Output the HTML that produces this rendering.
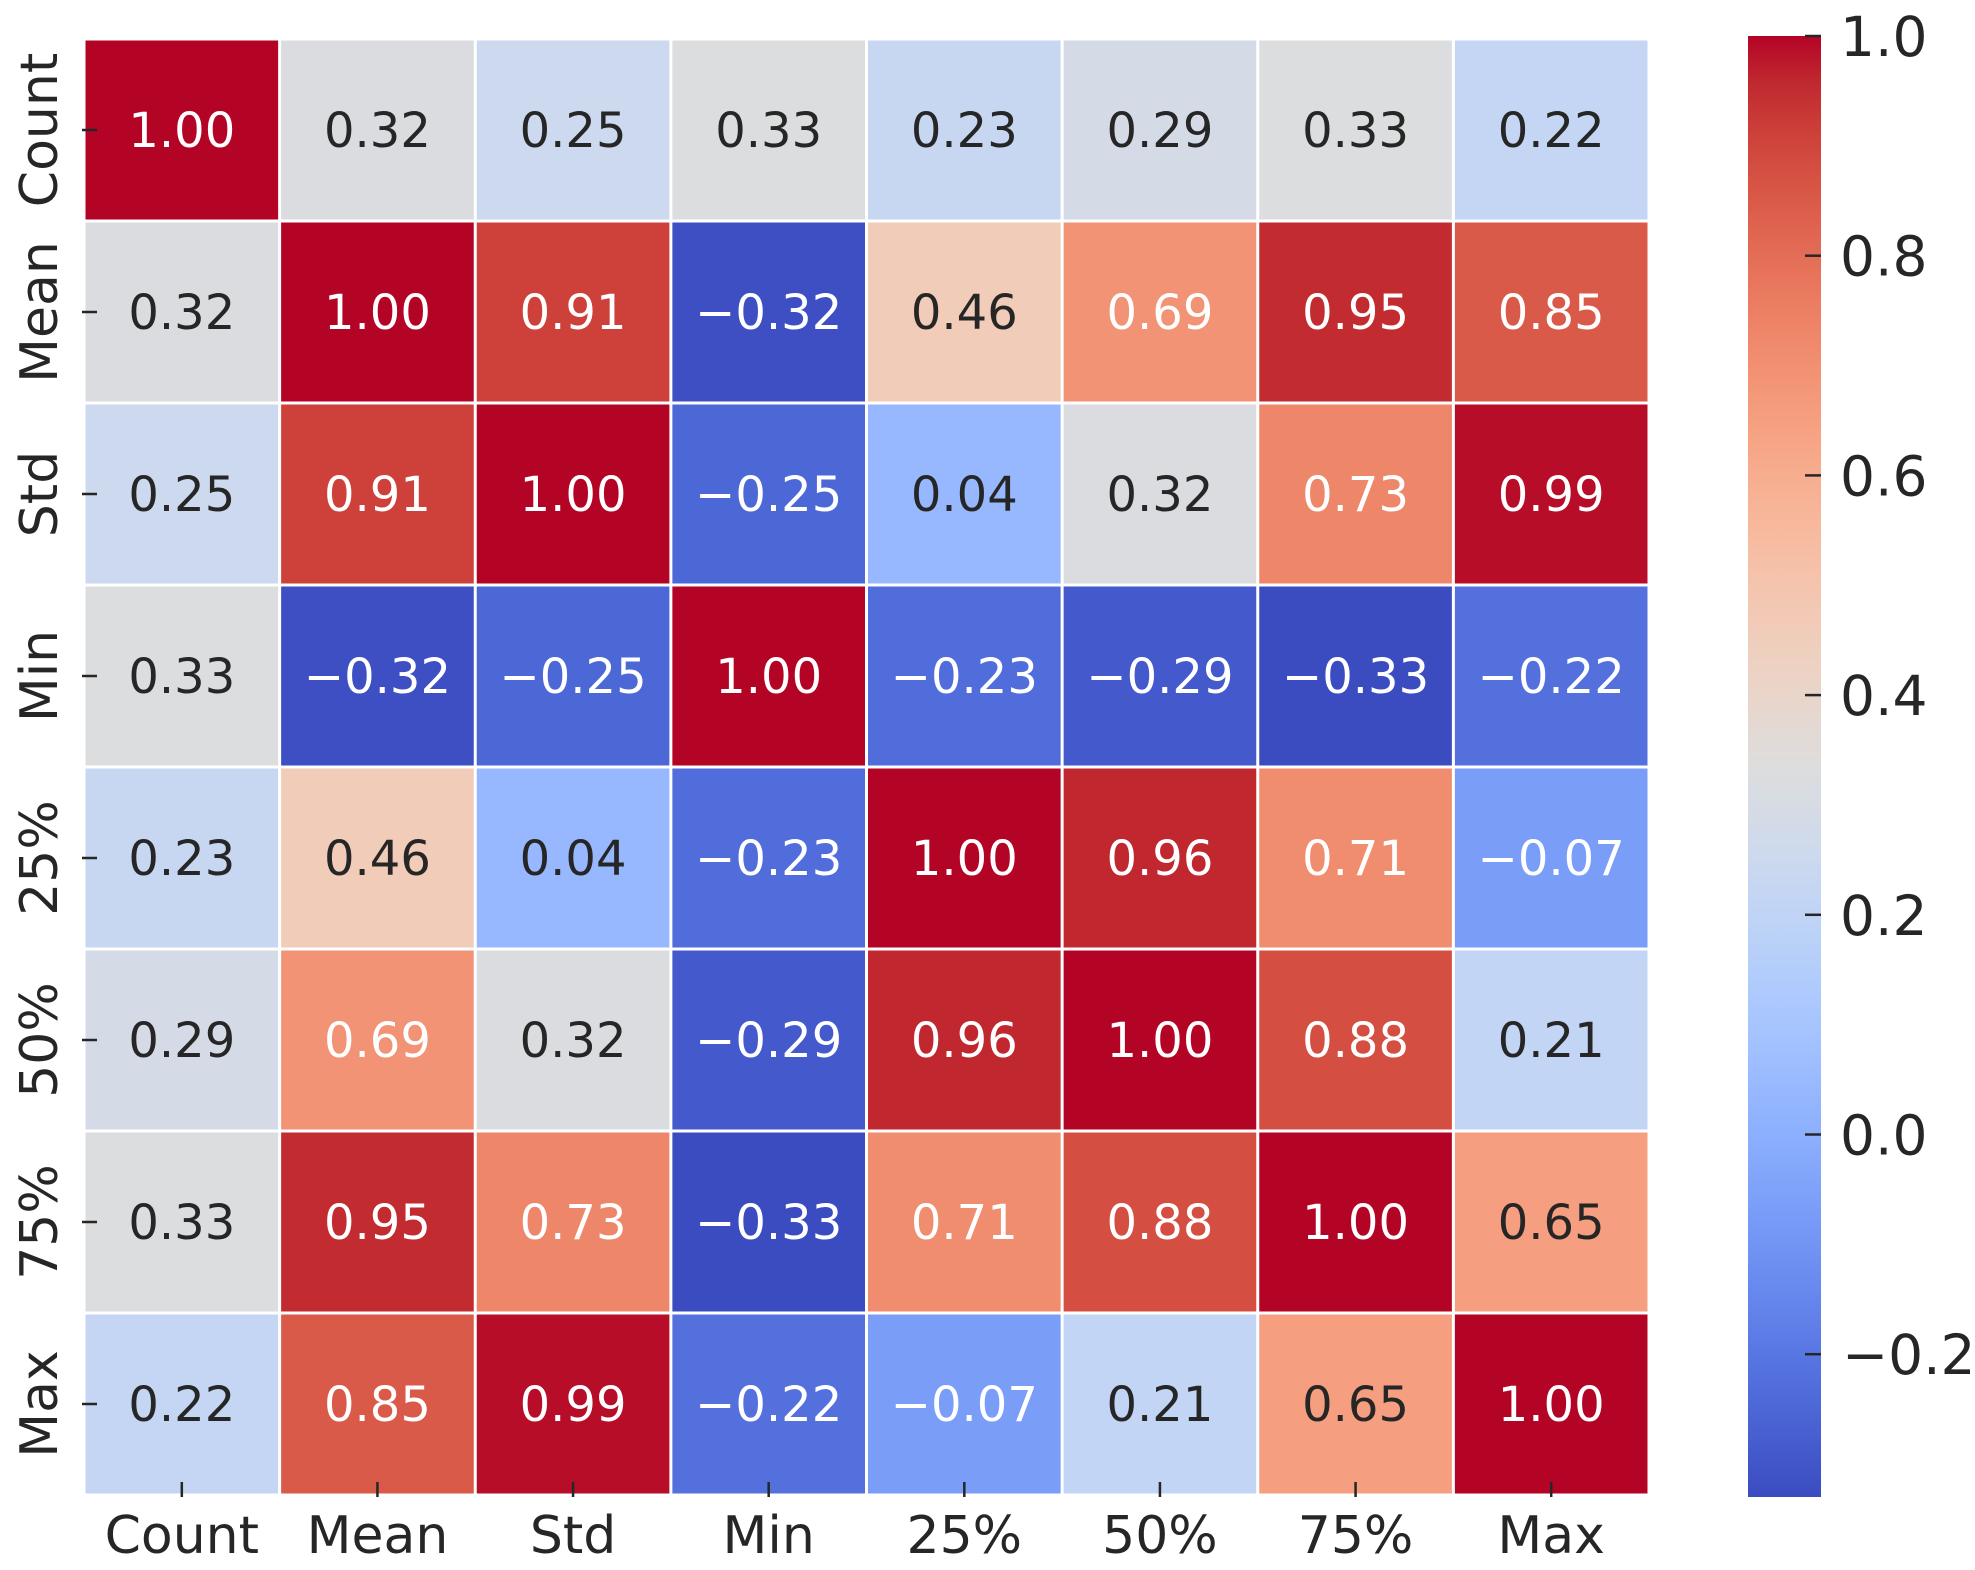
<!DOCTYPE html>
<html><head><meta charset="utf-8">
<style>
html,body{margin:0;padding:0;background:#fff;}
svg{display:block;font-family:"DejaVu Sans","Liberation Sans",sans-serif;}
</style></head>
<body>
<svg id="chart" width="1975" height="1570" viewBox="0 0 1975 1570" xmlns="http://www.w3.org/2000/svg">
<defs><linearGradient id="cbgrad" x1="0" y1="1" x2="0" y2="0"></linearGradient></defs>
<g id="cells"></g>
<g id="ylabels"></g>
<g id="xlabels"></g>
<g id="cbar"></g>
</svg>
<script>
const labels = ["Count","Mean","Std","Min","25%","50%","75%","Max"];
const rowCount = [1.00,0.32,0.25,0.33,0.23,0.29,0.33,0.22];
const rowMean  = [0.32,1.00,0.91,-0.32,0.46,0.69,0.95,0.85];
const rowStd   = [0.25,0.91,1.00,-0.25,0.04,0.32,0.73,0.99];
const rowMin   = [0.33,-0.32,-0.25,1.00,-0.23,-0.29,-0.33,-0.22];
const row25    = [0.23,0.46,0.04,-0.23,1.00,0.96,0.71,-0.07];
const row50    = [0.29,0.69,0.32,-0.29,0.96,1.00,0.88,0.21];
const row75    = [0.33,0.95,0.73,-0.33,0.71,0.88,1.00,0.65];
const rowMax   = [0.22,0.85,0.99,-0.22,-0.07,0.21,0.65,1.00];
const matrix = [rowCount,rowMean,rowStd,rowMin,row25,row50,row75,rowMax];
const cbTicks = [1.0,0.8,0.6,0.4,0.2,0.0,-0.2];

const NS="http://www.w3.org/2000/svg";
const L=84,T=39,R=1649,B=1495;
const n=labels.length, cw=(R-L)/n, ch=(B-T)/n;
const flat=matrix.flat();
const vmin=Math.min(...flat), vmax=Math.max(...flat);
const xPos=i=>L+i*cw, yPos=j=>T+j*ch;
const CBT=36,CBB=1497,CBL=1748,CBR=1821;
const cbY=v=>CBT+(vmax-v)/(vmax-vmin)*(CBB-CBT);

const cw33=[[59,76,192],[68,90,204],[77,104,215],[87,117,225],[98,130,234],[108,142,241],[119,154,247],[130,165,251],[141,176,254],[152,185,255],[163,194,255],[174,201,253],[184,208,249],[194,213,244],[204,217,238],[213,219,230],[221,221,221],[229,216,209],[236,211,197],[241,204,185],[245,196,173],[247,187,160],[247,177,148],[247,166,135],[244,154,123],[241,141,111],[236,127,99],[229,112,88],[222,96,77],[213,80,66],[203,62,56],[192,40,47],[180,4,38]];
function cmap(t){t=Math.max(0,Math.min(1,t));const p=t*32,i=Math.min(31,Math.floor(p)),f=p-i;
 return cw33[i].map((c,k)=>Math.round(c+(cw33[i+1][k]-c)*f));}
function lum(rgb){const c=rgb.map(v=>{v/=255;return v<=0.03928?v/12.92:Math.pow((v+0.055)/1.055,2.4)});return 0.2126*c[0]+0.7152*c[1]+0.0722*c[2];}

const gC=document.getElementById('cells');
matrix.forEach((row,j)=>row.forEach((v,i)=>{
  const rgb=cmap((v-vmin)/(vmax-vmin));
  const r=document.createElementNS(NS,'rect');
  
  
  r.setAttribute('x',xPos(i)+1.5);r.setAttribute('y',yPos(j)+1.5);
  r.setAttribute('width',cw-3);r.setAttribute('height',ch-3);
  r.setAttribute('fill','rgb('+rgb.join(',')+')');
  gC.appendChild(r);
  const t=document.createElementNS(NS,'text');
  
  
  t.setAttribute('x',xPos(i)+cw/2);t.setAttribute('y',yPos(j)+ch/2+17);
  t.setAttribute('text-anchor','middle');t.setAttribute('font-size','48');
  t.setAttribute('fill',lum(rgb)>0.44?'#262626':'#ffffff');
  t.textContent=v.toFixed(2).replace('-','\u2212');
  gC.appendChild(t);
}));

const gY=document.getElementById('ylabels'), gX=document.getElementById('xlabels');
labels.forEach((lab,k)=>{
  const cy=yPos(k)+ch/2, cx=xPos(k)+cw/2;
  const tk=document.createElementNS(NS,'line');
  
  
  tk.setAttribute('x1',82);tk.setAttribute('x2',97);tk.setAttribute('y1',cy);tk.setAttribute('y2',cy);
  tk.setAttribute('stroke','#262626');tk.setAttribute('stroke-width','2.5');
  gY.appendChild(tk);
  const t=document.createElementNS(NS,'text');
  
  
  t.setAttribute('transform','translate(57,'+cy+') rotate(-90)');
  t.setAttribute('text-anchor','middle');t.setAttribute('font-size','52');t.setAttribute('fill','#262626');
  t.textContent=lab;gY.appendChild(t);
  const tx=document.createElementNS(NS,'line');
  
  
  tx.setAttribute('x1',cx);tx.setAttribute('x2',cx);tx.setAttribute('y1',1482);tx.setAttribute('y2',1497);
  tx.setAttribute('stroke','#262626');tx.setAttribute('stroke-width','2.5');
  gX.appendChild(tx);
  const xt=document.createElementNS(NS,'text');
  
  
  xt.setAttribute('x',cx);xt.setAttribute('y',1553);
  xt.setAttribute('text-anchor','middle');xt.setAttribute('font-size','52');xt.setAttribute('fill','#262626');
  xt.textContent=lab;gX.appendChild(xt);
});

const grad=document.getElementById('cbgrad');
for(let s=0;s<=32;s++){const st=document.createElementNS(NS,'stop');st.setAttribute('offset',(s/32));st.setAttribute('stop-color','rgb('+cw33[s].join(',')+')');grad.appendChild(st);}
const gB=document.getElementById('cbar');
const cr=document.createElementNS(NS,'rect');


cr.setAttribute('x',CBL);cr.setAttribute('y',CBT);cr.setAttribute('width',CBR-CBL);cr.setAttribute('height',CBB-CBT);
cr.setAttribute('fill','url(#cbgrad)');gB.appendChild(cr);
cbTicks.forEach(v=>{
  const y=cbY(v);
  const l=document.createElementNS(NS,'line');
  
  
  l.setAttribute('x1',CBR-16);l.setAttribute('x2',CBR);l.setAttribute('y1',y);l.setAttribute('y2',y);
  l.setAttribute('stroke','#262626');l.setAttribute('stroke-width','2.5');gB.appendChild(l);
  const t=document.createElementNS(NS,'text');
  
  
  t.setAttribute('x',v<0?1842:1840);t.setAttribute('y',y+20);
  t.setAttribute('font-size','55');t.setAttribute('fill','#262626');
  t.textContent=v.toFixed(1).replace('-','\u2212');gB.appendChild(t);
});
</script>
</body></html>
